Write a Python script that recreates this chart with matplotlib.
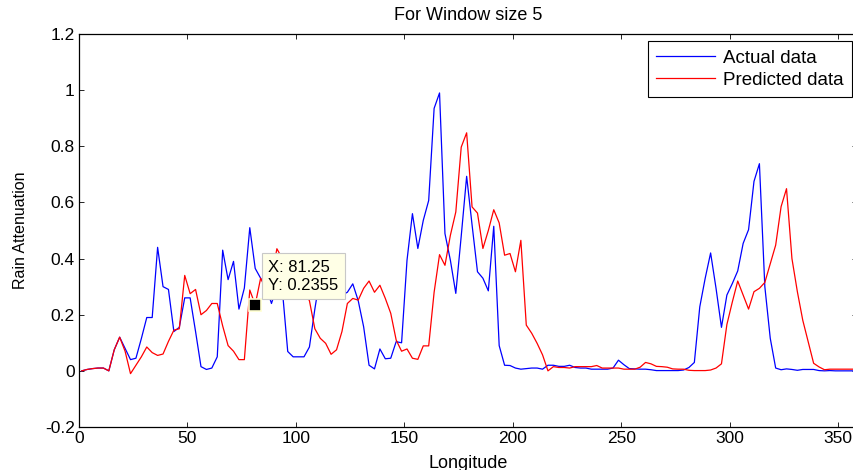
import matplotlib
matplotlib.use("Agg")
import matplotlib.pyplot as plt
from matplotlib.ticker import FuncFormatter
import numpy as np

# sample positions along longitude (2.5 deg steps, centred)
longitude = 1.25 + 2.5 * np.arange(144)

actual = [
    0.0, 0.005, 0.008, 0.01, 0.01, 0.0, 0.075, 0.12, 0.08, 0.04,
    0.045, 0.115, 0.19, 0.19, 0.44, 0.30, 0.29, 0.14, 0.155, 0.26,
    0.26, 0.14, 0.015, 0.005, 0.01, 0.05, 0.43, 0.325, 0.39, 0.22,
    0.295, 0.51, 0.365, 0.33, 0.30, 0.24, 0.30, 0.29, 0.069, 0.05,
    0.05, 0.05, 0.085, 0.22, 0.34, 0.30, 0.28, 0.30, 0.27, 0.28,
    0.31, 0.25, 0.157, 0.02, 0.007, 0.078, 0.043, 0.045, 0.104, 0.10,
    0.394, 0.56, 0.436, 0.536, 0.607, 0.935, 0.99, 0.489, 0.394, 0.276,
    0.48, 0.693, 0.52, 0.353, 0.33, 0.285, 0.515, 0.09, 0.02, 0.019,
    0.01, 0.006, 0.008, 0.01, 0.01, 0.006, 0.02, 0.02, 0.016, 0.016,
    0.02, 0.012, 0.01, 0.01, 0.006, 0.006, 0.006, 0.006, 0.01, 0.038,
    0.022, 0.008, 0.007, 0.006, 0.006, 0.004, 0.001, 0.001, 0.001, 0.001,
    0.001, 0.003, 0.012, 0.03, 0.228, 0.33, 0.42, 0.294, 0.155, 0.27,
    0.311, 0.356, 0.454, 0.503, 0.675, 0.738, 0.30, 0.116, 0.01, 0.004,
    0.007, 0.005, 0.002, 0.005, 0.005, 0.005, 0.001, 0.0, 0.001, 0.0,
    0.0, 0.0, 0.0, 0.0,
]

predicted = [
    0.0, 0.005, 0.008, 0.01, 0.01, 0.0, 0.075, 0.12, 0.07, -0.01,
    0.02, 0.05, 0.085, 0.065, 0.055, 0.06, 0.105, 0.145, 0.15, 0.34,
    0.275, 0.29, 0.20, 0.215, 0.24, 0.24, 0.16, 0.09, 0.07, 0.04,
    0.04, 0.288, 0.2355, 0.33, 0.29, 0.33, 0.435, 0.40, 0.35, 0.32,
    0.30, 0.28, 0.25, 0.15, 0.116, 0.098, 0.059, 0.075, 0.14, 0.24,
    0.258, 0.252, 0.294, 0.32, 0.28, 0.305, 0.258, 0.205, 0.11, 0.07,
    0.078, 0.045, 0.041, 0.089, 0.089, 0.28, 0.414, 0.376, 0.483, 0.566,
    0.797, 0.848, 0.584, 0.562, 0.436, 0.50, 0.574, 0.527, 0.412, 0.418,
    0.353, 0.465, 0.163, 0.134, 0.098, 0.057, 0.0, 0.015, 0.012, 0.012,
    0.01, 0.015, 0.015, 0.015, 0.015, 0.019, 0.01, 0.01, 0.01, 0.01,
    0.006, 0.006, 0.006, 0.013, 0.03, 0.025, 0.016, 0.015, 0.013, 0.007,
    0.006, 0.006, 0.002, 0.001, 0.001, 0.001, 0.003, 0.01, 0.025, 0.165,
    0.245, 0.32, 0.27, 0.22, 0.282, 0.294, 0.315, 0.382, 0.448, 0.585,
    0.649, 0.40, 0.282, 0.18, 0.104, 0.027, 0.014, 0.004, 0.006, 0.006,
    0.006, 0.006, 0.006, 0.006,
]

tip_x = 81.25
tip_y = 0.2355

plt.rcParams['font.family'] = ['Liberation Sans', 'DejaVu Sans']

fig = plt.figure(figsize=(8.54, 4.70), dpi=100)
ax = fig.add_axes([79 / 854, 43 / 470, 778 / 854, 393 / 470])

ax.plot(longitude, actual, color='#0000ff', lw=0.9, label='Actual data')
ax.plot(longitude, predicted, color='#ff0000', lw=0.9, label='Predicted data')

ax.set_xlim(0, longitude[-1])
ax.set_ylim(-0.2, 1.2)
ax.set_xticks(np.arange(0, 351, 50))
ax.set_yticks(np.arange(-0.2, 1.21, 0.2))
ax.yaxis.set_major_formatter(FuncFormatter(lambda v, p: '%g' % round(v, 1)))
ax.tick_params(direction='in', top=True, right=True, length=3.5, width=0.6,
               labelsize=12.5, pad=3)
for s in ax.spines.values():
    s.set_linewidth(0.9)

ax.set_title('For Window size 5', fontsize=13, pad=10)
ax.set_xlabel('Longitude', fontsize=13, labelpad=6)
ax.set_ylabel('Rain Attenuation', fontsize=11.5, labelpad=12)

leg = ax.legend(loc='upper right', bbox_to_anchor=(0.9936, 0.982), fancybox=False,
                edgecolor='black', framealpha=1, fontsize=13.5,
                handlelength=3.1, borderpad=0.45, labelspacing=0.28,
                handletextpad=0.45, borderaxespad=0)
leg.get_frame().set_linewidth(0.8)

# data cursor
ax.plot([tip_x], [tip_y], marker='s', ms=9, color='black', mec='#ffffd0', mew=1.2)
ax.annotate('X: %.2f\nY: %.4f' % (tip_x, tip_y), xy=(tip_x, tip_y),
            xytext=(13, 12), textcoords='offset pixels', ha='left', va='bottom',
            fontsize=12, linespacing=1.25,
            bbox=dict(boxstyle='square,pad=0.4', fc='#ffffe6', ec='#c8c8c8', lw=0.8))

fig.savefig('out.png', dpi=100)
